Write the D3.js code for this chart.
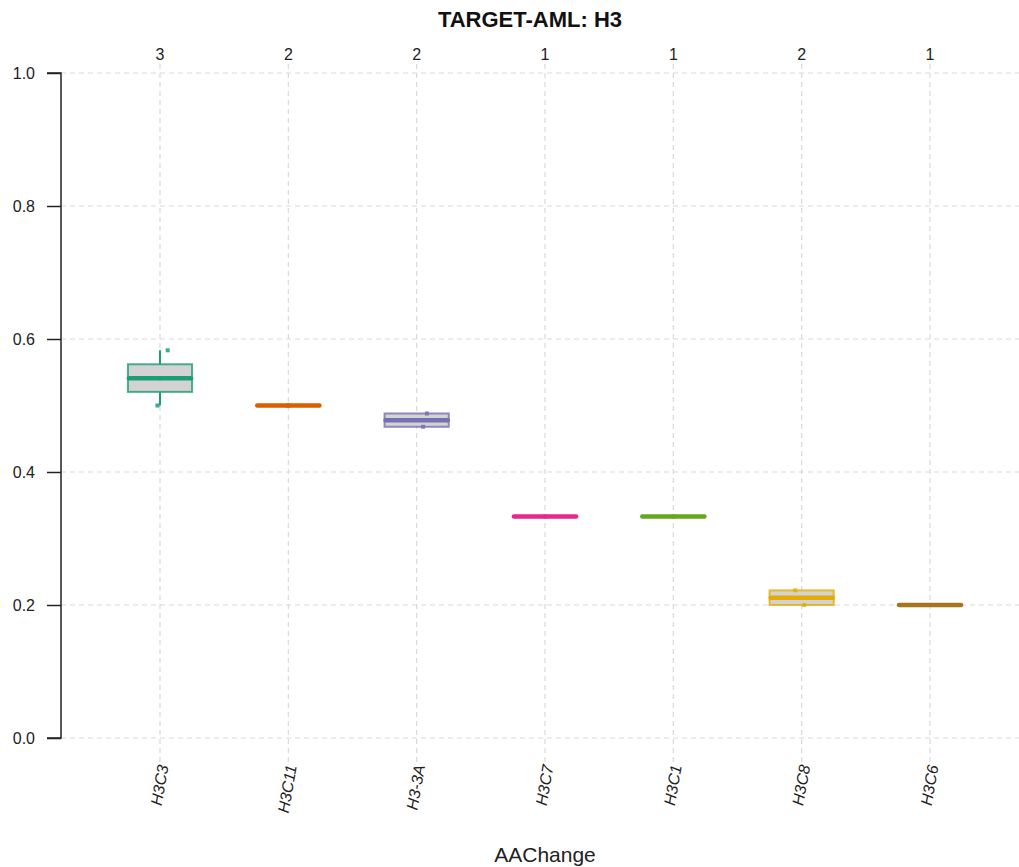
<!DOCTYPE html>
<html>
<head>
  <script src="https://d3js.org/d3.v7.min.js"></script>
  <style>
    body { margin: 0; background: #fff; font-family: "Liberation Sans", Arial, sans-serif; }
    .grid line { stroke: #d9d9d9; stroke-dasharray: 5,4; stroke-width: 1.2; }
    .axis text { font-size: 16px; fill: #222; }
  </style>
</head>
<body>
  <div id="chart"></div>
  <script>
    const categories = ["H3C3", "H3C11", "H3-3A", "H3C7", "H3C1", "H3C8", "H3C6"];
    const colors = ["#1B9E77", "#D95F02", "#7570B3", "#E7298A", "#66A61E", "#E6AB02", "#A6761D"];
    const values = [
      [0.5, 0.541, 0.583],
      [0.5, 0.5],
      [0.468, 0.488],
      [0.333],
      [0.333],
      [0.2, 0.222],
      [0.2]
    ];
    // horizontal jitter of the points, in category widths
    const jitter = [
      [-0.02, 0.0, 0.06],
      [0.0, 0.0],
      [0.05, 0.08],
      [0.0],
      [0.0],
      [0.02, -0.05],
      [0.0]
    ];
    const yTicks = [0, 0.2, 0.4, 0.6, 0.8, 1.0];

    const W = 1019, H = 867;
    const svg = d3.select("#chart").append("svg").attr("width", W).attr("height", H);

    const x = d3.scaleLinear().domain([0, 6]).range([160, 930]);
    const y = d3.scaleLinear().domain([0, 1]).range([738, 73]);
    const step = x(1) - x(0);
    const half = step * 0.25;

    // grid
    const grid = svg.append("g").attr("class", "grid");
    grid.selectAll("line.h").data(yTicks).join("line")
      .attr("x1", 61).attr("x2", W).attr("y1", d => y(d)).attr("y2", d => y(d));
    grid.selectAll("line.v").data(categories).join("line")
      .attr("x1", (d, i) => x(i)).attr("x2", (d, i) => x(i))
      .attr("y1", 64).attr("y2", 764);

    // y axis
    const yAxis = svg.append("g").attr("class", "axis")
      .attr("transform", "translate(61,0)")
      .call(d3.axisLeft(y).tickValues(yTicks).tickFormat(d3.format(".1f")).tickSize(14).tickPadding(12));
    yAxis.select(".domain").attr("stroke", "#222").attr("stroke-width", 1.5).attr("d", `M-14,${y(1)}H0V${y(0)}H-14`);
    yAxis.selectAll(".tick line").attr("stroke", "#222").attr("stroke-width", 1.5);

    // Tukey five-number summary (hinges), like R's boxplot
    function fivenum(v) {
      const s = v.slice().sort(d3.ascending), n = s.length;
      const n4 = Math.floor((n + 3) / 2) / 2;
      const at = d => 0.5 * (s[Math.floor(d) - 1] + s[Math.ceil(d) - 1]);
      return { min: s[0], q1: at(n4), med: at((n + 1) / 2), q3: at(n + 1 - n4), max: s[n - 1] };
    }
    const stats = values.map(fivenum);

    const g = svg.append("g");
    stats.forEach((s, i) => {
      const cx = x(i), c = colors[i];
      // whiskers
      g.append("line").attr("x1", cx).attr("x2", cx).attr("y1", y(s.max)).attr("y2", y(s.q3))
        .attr("stroke", c).attr("stroke-width", 2);
      g.append("line").attr("x1", cx).attr("x2", cx).attr("y1", y(s.q1)).attr("y2", y(s.min))
        .attr("stroke", c).attr("stroke-width", 2);
      // box
      g.append("rect").attr("x", cx - half).attr("width", half * 2)
        .attr("y", y(s.q3)).attr("height", y(s.q1) - y(s.q3))
        .attr("fill", "#d3d3d3").attr("stroke", c).attr("stroke-opacity", 0.8).attr("stroke-width", 2);
      // median
      g.append("line").attr("x1", cx - half + 1).attr("x2", cx + half - 1)
        .attr("y1", y(s.med)).attr("y2", y(s.med))
        .attr("stroke", c).attr("stroke-width", 4.5).attr("stroke-linecap", "round");
      // points
      values[i].forEach((v, j) => {
        g.append("rect").attr("x", x(i + jitter[i][j]) - 2).attr("y", y(v) - 2)
          .attr("width", 4).attr("height", 4).attr("fill", c).attr("opacity", 0.85);
      });
    });

    // counts on top
    svg.append("g").selectAll("text").data(values).join("text")
      .attr("x", (d, i) => x(i)).attr("y", 60).attr("text-anchor", "middle")
      .attr("font-size", 16).attr("fill", "#222").text(d => d.length);

    // x labels
    svg.append("g").selectAll("text").data(categories).join("text")
      .attr("transform", (d, i) => `translate(${x(i) + 3},765) rotate(-80)`)
      .attr("text-anchor", "end").attr("dy", "0.35em")
      .attr("font-size", 16).attr("font-style", "italic").attr("fill", "#222").text(d => d);

    // titles
    svg.append("text").attr("x", 530).attr("y", 27).attr("text-anchor", "middle")
      .attr("font-size", 22).attr("font-weight", "bold").attr("fill", "#111").text("TARGET-AML: H3");
    svg.append("text").attr("x", 545).attr("y", 862).attr("text-anchor", "middle")
      .attr("font-size", 21).attr("fill", "#222").text("AAChange");
  </script>
</body>
</html>
